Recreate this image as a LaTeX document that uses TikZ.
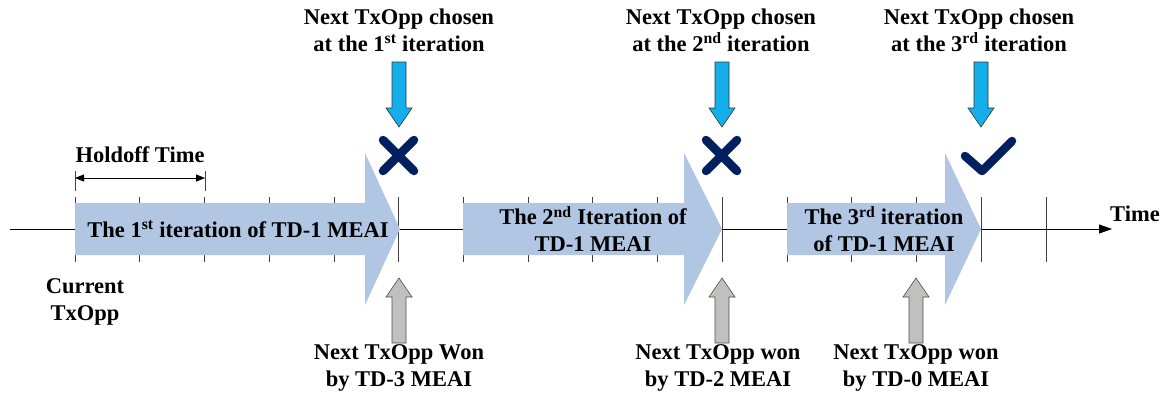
\documentclass[tikz,border=0pt]{standalone}
\usepackage{fontspec}
\setmainfont{Liberation Serif}
\usetikzlibrary{arrows.meta}
\definecolor{iterblue}{RGB}{177,198,227}
\definecolor{pickblue}{RGB}{20,174,234}
\definecolor{navy}{RGB}{0,32,96}
\definecolor{wongray}{RGB}{191,193,191}
\tikzset{
  lbl/.style={font=\fontsize{22.5}{27}\selectfont\bfseries, align=center, inner sep=0pt},
  iterarrow/.style={fill=iterblue},
  pickarrow/.style={fill=pickblue, draw=black!80, line width=0.6pt},
  wonarrow/.style={fill=wongray, draw=black!70, line width=0.6pt},
  statusmark/.style={draw=navy, line width=8.5pt, line cap=round, line join=round},
  slottick/.style={draw=black!75, line width=0.7pt},
}
\begin{document}
\begin{tikzpicture}[x=1pt,y=-1pt]
\useasboundingbox (0,0) rectangle (1173,399);

% time axis
\coordinate (axstart) at (10,229);
\coordinate (axend) at (1112,229);
\draw[line width=0.8pt, -{Triangle[length=13pt,width=9pt]}] (axstart) -- (axend);
\node[lbl, anchor=west] (time) at (1110,214) {Time};

% slot ticks
\foreach \k in {0,...,15}
  \draw[slottick] ({75+64.73*\k},197) -- ({75+64.73*\k},262);

% iteration arrows
\fill[iterarrow] (75,203) -- (365,203) -- (365,153) -- (400,229) -- (365,305) -- (365,255) -- (75,255) -- cycle;
\fill[iterarrow] (463,203) -- (684,203) -- (684,153) -- (722,229) -- (684,305) -- (684,255) -- (463,255) -- cycle;
\fill[iterarrow] (787,203) -- (945,203) -- (945,153) -- (981,229) -- (945,305) -- (945,255) -- (787,255) -- cycle;

\node[lbl] (it1) at (238,229) {The 1\textsuperscript{st} iteration of TD-1 MEAI};
\node[lbl] (it2) at (593,229) {The 2\textsuperscript{nd} Iteration of\\TD-1 MEAI};
\node[lbl] (it3) at (884,229) {The 3\textsuperscript{rd} iteration\\of TD-1 MEAI};

% holdoff time
\coordinate (h0) at (75,178);
\coordinate (h1) at (205,178);
\draw[slottick] (75,171) -- (75,191);
\draw[slottick] (205,171) -- (205,191);
\draw[line width=0.8pt, {Triangle[length=9pt,width=7pt]}-{Triangle[length=9pt,width=7pt]}] (h0) -- (h1);
\node[lbl] (hold) at (140,155) {Holdoff Time};

\node[lbl] (cur) at (85,302) {Current\\TxOpp};

% chosen TxOpp arrows and marks
\foreach \x in {399,722,981}
  \draw[pickarrow] (\x-7,62) -- (\x+7,62) -- (\x+7,108) -- (\x+13,108) -- (\x,127) -- (\x-13,108) -- (\x-7,108) -- cycle;
\node[lbl] (ch1) at (399,30) {Next TxOpp chosen\\at the 1\textsuperscript{st} iteration};
\node[lbl] (ch2) at (721,30) {Next TxOpp chosen\\at the 2\textsuperscript{nd} iteration};
\node[lbl] (ch3) at (979,30) {Next TxOpp chosen\\at the 3\textsuperscript{rd} iteration};

\draw[statusmark] (383,140) -- (414,171) (414,140) -- (383,171);
\draw[statusmark] (706,140) -- (737,171) (737,140) -- (706,171);
\draw[statusmark] (965,156) -- (982,171) -- (1012,141);

% won TxOpp arrows
\foreach \x in {399,722,916}
  \draw[wonarrow] (\x,278) -- (\x+13,297) -- (\x+7,297) -- (\x+7,343) -- (\x-7,343) -- (\x-7,297) -- (\x-13,297) -- cycle;
\node[lbl] (won1) at (399,368) {Next TxOpp Won\\by TD-3 MEAI};
\node[lbl] (won2) at (718,368) {Next TxOpp won\\by TD-2 MEAI};
\node[lbl] (won3) at (916,368) {Next TxOpp won\\by TD-0 MEAI};
\end{tikzpicture}
\end{document}
